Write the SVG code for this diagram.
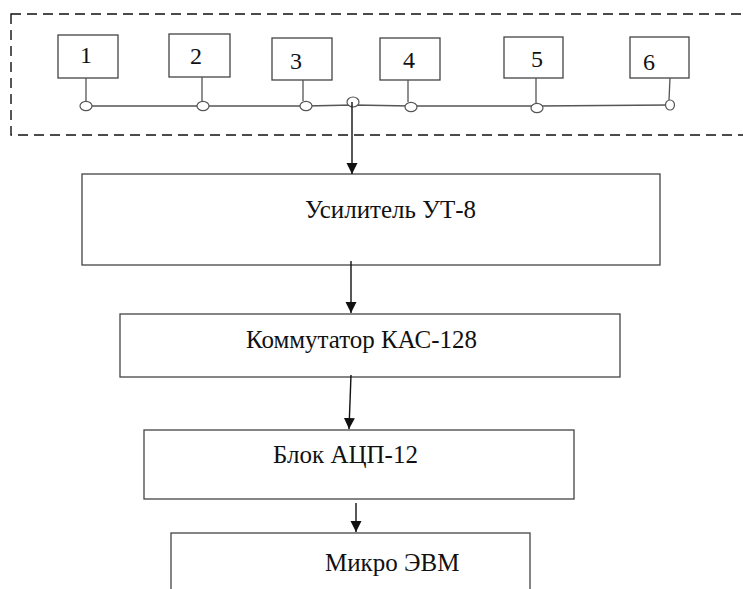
<svg xmlns="http://www.w3.org/2000/svg" width="743" height="589" viewBox="0 0 743 589">
  <style>
    .frame { fill: none; stroke: #111; stroke-width: 1.4; stroke-dasharray: 10 6; }
    .box { fill: #fff; stroke: #444; stroke-width: 1.3; }
    .wire { fill: none; stroke: #555; stroke-width: 1.3; }
    .tap { fill: #fff; stroke: #555; stroke-width: 1.2; }
    .arrow { fill: none; stroke: #111; stroke-width: 1.4; marker-end: url(#head); }
    .num { font-family: 'Liberation Serif', 'DejaVu Serif', serif; font-size: 24px; text-anchor: middle; fill: #111; }
    .lbl { font-family: 'Liberation Serif', 'DejaVu Serif', serif; font-size: 25px; fill: #111; }
  </style>
  <defs>
    <marker id="head" markerUnits="userSpaceOnUse" markerWidth="12" markerHeight="12" viewBox="0 0 12 12" refX="11" refY="6" orient="auto">
      <path d="M0,0.5 L11,6 L0,11.5 Z" fill="#111"/>
    </marker>
  </defs>

  <rect x="0" y="0" width="743" height="589" fill="#fff"/>

  <!-- sensor assembly boundary -->
  <rect class="frame" x="11" y="14" width="740" height="121"/>

  <!-- sensors -->
  <g id="sensor1"><rect class="box" x="58" y="35" width="60" height="43"/><text class="num" x="86" y="63">1</text></g>
  <g id="sensor2"><rect class="box" x="169" y="34" width="61" height="43"/><text class="num" x="196" y="64">2</text></g>
  <g id="sensor3"><rect class="box" x="272" y="38" width="60" height="42"/><text class="num" x="296" y="69">3</text></g>
  <g id="sensor4"><rect class="box" x="380" y="38" width="60" height="42"/><text class="num" x="409" y="68">4</text></g>
  <g id="sensor5"><rect class="box" x="504" y="37" width="59" height="41"/><text class="num" x="537" y="67">5</text></g>
  <g id="sensor6"><rect class="box" x="630" y="37" width="59" height="41"/><text class="num" x="649" y="70">6</text></g>

  <!-- processing chain -->
  <g id="amplifier"><rect class="box" x="82" y="174" width="578" height="91"/><text class="lbl" x="305" y="218">Усилитель УТ-8</text></g>
  <g id="switch"><rect class="box" x="120" y="314" width="500" height="63"/><text class="lbl" x="246" y="348">Коммутатор КАС-128</text></g>
  <g id="adc"><rect class="box" x="144" y="430" width="430" height="69"/><text class="lbl" x="273" y="463">Блок АЦП-12</text></g>
  <g id="computer"><rect class="box" x="171" y="533" width="359" height="70"/><text class="lbl" x="325" y="571">Микро ЭВМ</text></g>

  <g id="connectors">
    <!-- common bus with sensor taps -->
    <path class="wire" d="M86,106 L306,106 L353,105 L411,106 L537,106 L670,105"/>
    <path class="wire" d="M86,78 V101 M202,77 V101 M303,80 V101 M408,80 V102 M536,78 V103 M670,78 L669,100"/>
    <ellipse class="tap" cx="86" cy="106" rx="6" ry="4.7"/>
    <ellipse class="tap" cx="203" cy="106" rx="6" ry="4.7"/>
    <ellipse class="tap" cx="306" cy="106" rx="6" ry="4.7"/>
    <ellipse class="tap" cx="353" cy="102" rx="6" ry="5"/>
    <ellipse class="tap" cx="411" cy="107" rx="6" ry="4.7"/>
    <ellipse class="tap" cx="537" cy="108" rx="6" ry="4.7"/>
    <ellipse class="tap" cx="670" cy="105" rx="4.5" ry="5"/>

    <!-- signal flow -->
    <path class="arrow" d="M352,102 L352,174"/>
    <path class="arrow" d="M351,261 L351,313"/>
    <path class="arrow" d="M351,375 L349,429"/>
    <path class="arrow" d="M356,503 L356,532"/>
  </g>
</svg>
